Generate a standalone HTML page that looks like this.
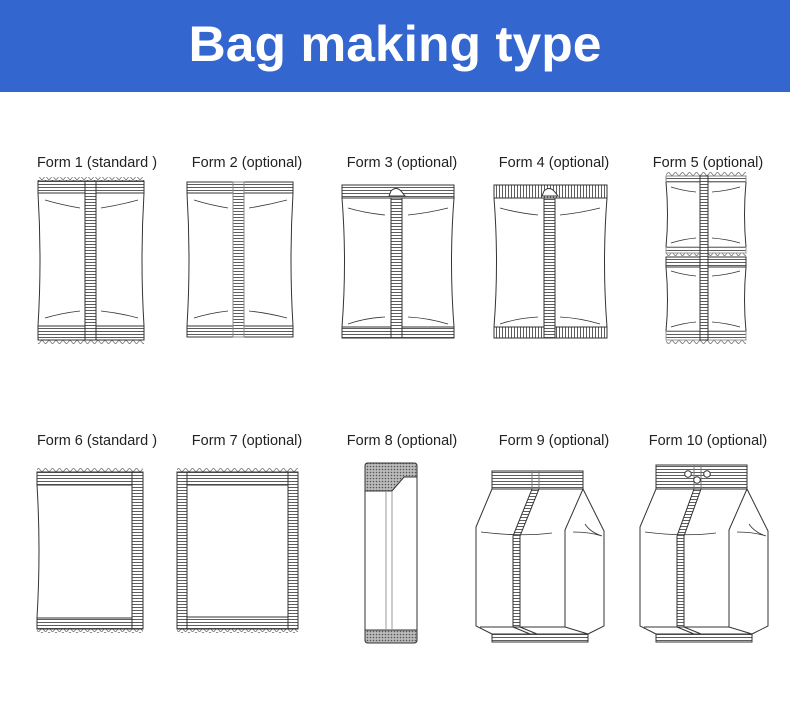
<!DOCTYPE html>
<html><head><meta charset="utf-8"><style>
html,body{margin:0;padding:0;background:#fff;}
svg{display:block;}
</style></head><body>
<svg width="790" height="717" viewBox="0 0 790 717" xmlns="http://www.w3.org/2000/svg">
<defs>
<pattern id="hh" width="6" height="3" patternUnits="userSpaceOnUse"><rect width="6" height="3" fill="#fff"/><line x1="0" y1="1.5" x2="6" y2="1.5" stroke="#333" stroke-width="0.8"/></pattern>
<pattern id="vv" width="3" height="6" patternUnits="userSpaceOnUse"><rect width="3" height="6" fill="#fff"/><line x1="1.5" y1="0" x2="1.5" y2="6" stroke="#333" stroke-width="0.8"/></pattern>
<pattern id="xx" width="3" height="3" patternUnits="userSpaceOnUse"><rect width="3" height="3" fill="#bbb"/><circle cx="1.5" cy="1.5" r="0.8" fill="#555"/></pattern>
<pattern id="zt" x="0" y="0" width="7" height="4" patternUnits="userSpaceOnUse"><polyline points="0,4 3.5,0 7,4" fill="none" stroke="#777" stroke-width="0.8"/></pattern>
<pattern id="zb" x="0" y="0" width="7" height="4" patternUnits="userSpaceOnUse"><polyline points="0,0 3.5,4 7,0" fill="none" stroke="#777" stroke-width="0.8"/></pattern>
</defs>
<rect x="0" y="0" width="790" height="92" fill="#3366cf"/>
<text x="395" y="61" text-anchor="middle" font-family="Liberation Sans, sans-serif" font-weight="bold" font-size="50" fill="#fff" textLength="413" lengthAdjust="spacingAndGlyphs">Bag making type</text>

<g font-family="Liberation Sans, sans-serif" font-size="14.5" fill="#222" text-anchor="middle">
<text x="97" y="167">Form 1 (standard )</text>
<text x="247" y="167">Form 2 (optional)</text>
<text x="402" y="167">Form 3 (optional)</text>
<text x="554" y="167">Form 4 (optional)</text>
<text x="708" y="167">Form 5 (optional)</text>
<text x="97" y="445">Form 6 (standard )</text>
<text x="247" y="445">Form 7 (optional)</text>
<text x="402" y="445">Form 8 (optional)</text>
<text x="554" y="445">Form 9 (optional)</text>
<text x="708" y="445">Form 10 (optional)</text>
</g>

<g fill="none" stroke="#333" stroke-width="1">
<!-- Bag 1 -->
<rect x="38" y="177" width="106" height="4" fill="url(#zt)" stroke="none"/>
<rect x="38" y="340" width="106" height="4" fill="url(#zb)" stroke="none"/>
<rect x="38" y="181" width="106" height="12" fill="url(#hh)"/>
<rect x="38" y="326" width="106" height="14" fill="url(#hh)"/>
<path d="M38,193 Q42,260 38,326 M144,193 Q140,260 144,326"/>
<rect x="85" y="181" width="11" height="159" fill="url(#hh)"/>
<path d="M45,200 Q62,205 80,208 M101,208 Q120,205 138,200 M45,318 Q62,313 80,311 M101,311 Q120,313 138,318" stroke-width="0.8"/>
<!-- Bag 2 -->
<rect x="187" y="182" width="106" height="11" fill="url(#hh)"/>
<rect x="187" y="326" width="106" height="11" fill="url(#hh)"/>
<path d="M187,193 Q191,260 187,326 M293,193 Q289,260 293,326"/>
<rect x="233" y="182" width="11" height="155" fill="url(#hh)" stroke="#888"/>
<path d="M194,200 Q210,205 228,208 M249,208 Q268,205 287,200 M194,318 Q210,313 228,311 M249,311 Q268,313 287,318" stroke-width="0.8"/>
<!-- Bag 3 -->
<rect x="342" y="185" width="112" height="13" fill="url(#hh)"/>
<rect x="342" y="327" width="112" height="11" fill="url(#hh)"/>
<path d="M342,198 Q347,262 342,327 M454,198 Q449,262 454,327"/>
<rect x="391" y="198" width="11" height="140" fill="url(#hh)"/>
<path d="M389,196 L391,191 Q396,186 401,191 L405,196 Z" fill="#fff"/>
<path d="M348,208 Q365,213 385,215 M408,215 Q428,213 448,208 M348,324 Q365,318 385,317 M408,317 Q428,318 448,324" stroke-width="0.8"/>
<!-- Bag 4 -->
<rect x="494" y="185" width="113" height="13" fill="url(#vv)"/>
<rect x="494" y="327" width="113" height="11" fill="url(#vv)"/>
<path d="M494,198 Q499,262 494,327 M607,198 Q602,262 607,327"/>
<rect x="544" y="198" width="11" height="140" fill="url(#hh)"/>
<path d="M542,196 L544,191 Q549,186 554,191 L558,196 Z" fill="#fff"/>
<path d="M500,208 Q518,213 538,215 M560,215 Q580,213 600,208 M500,324 Q518,318 538,317 M560,317 Q580,318 600,324" stroke-width="0.8"/>
<!-- Bag 5 -->
<rect x="666" y="172" width="80" height="4" fill="url(#zt)" stroke="none"/>
<rect x="666" y="340" width="80" height="4" fill="url(#zb)" stroke="none"/>
<rect x="666" y="253" width="80" height="3" fill="url(#zb)" stroke="none"/>
<rect x="666" y="176" width="80" height="6" fill="url(#hh)" stroke="#888"/>
<rect x="666" y="247" width="80" height="6" fill="url(#hh)" stroke="#999"/>
<rect x="666" y="257" width="80" height="10" fill="url(#hh)"/>
<rect x="666" y="331" width="80" height="9" fill="url(#hh)" stroke="#999"/>
<path d="M666,182 Q669,215 666,247 M746,182 Q743,215 746,247 M666,267 Q669,300 666,331 M746,267 Q743,300 746,331"/>
<rect x="700" y="176" width="8" height="164" fill="url(#hh)"/>
<path d="M671,187 Q684,191 696,192 M712,192 Q726,191 740,187 M671,243 Q684,239 696,238 M712,238 Q726,239 740,243 M671,271 Q684,275 696,276 M712,276 Q726,275 740,271 M671,327 Q684,323 696,322 M712,322 Q726,323 740,327" stroke-width="0.8"/>

<!-- Bag 6 -->
<rect x="37" y="468" width="106" height="4" fill="url(#zt)" stroke="none"/>
<rect x="37" y="629" width="106" height="4" fill="url(#zb)" stroke="none"/>
<rect x="37" y="472" width="106" height="13" fill="url(#hh)"/>
<rect x="37" y="618" width="106" height="11" fill="url(#hh)"/>
<path d="M37,485 Q41,550 37,618"/>
<rect x="132" y="472" width="11" height="157" fill="url(#hh)"/>
<!-- Bag 7 -->
<rect x="177" y="468" width="121" height="4" fill="url(#zt)" stroke="none"/>
<rect x="177" y="629" width="121" height="4" fill="url(#zb)" stroke="none"/>
<rect x="177" y="472" width="121" height="13" fill="url(#hh)"/>
<rect x="177" y="617" width="121" height="12" fill="url(#hh)"/>
<rect x="177" y="472" width="10" height="157" fill="url(#hh)"/>
<rect x="288" y="472" width="10" height="157" fill="url(#hh)"/>
<!-- Bag 8 -->
<rect x="365" y="463" width="52" height="180" rx="3" fill="#fff"/>
<path d="M368,463 H414 Q417,463 417,466 V477 H404 L392,491 H365 V466 Q365,463 368,463 Z" fill="url(#xx)"/>
<path d="M365,630 H417 V640 Q417,643 414,643 H368 Q365,643 365,640 Z" fill="url(#xx)"/>
<path d="M386,491 V630 M392,491 V630" stroke="#999"/>

<!-- Bag 9 -->
<g id="b9">
<rect x="492" y="471" width="91" height="18" fill="url(#hh)"/>
<rect x="492" y="634" width="96" height="8" fill="url(#hh)"/>
<path d="M492,489 L476,527 L476,626 L492,634 M583,489 L604,531 L604,626 L588,634 M583,489 L565,530 L565,627 L588,634 M480,627 L565,627"/>
<path d="M532,471 V489 M539,471 V489" stroke="#777"/>
<path d="M532,489 L513,536 L513,627 L520,627 L520,536 L539,489 Z" fill="url(#hh)"/>
<path d="M513,627 L530,634 M520,627 L537,634"/>
<path d="M481,532 Q520,537 552,533 M573,532 Q590,532 602,536 M585,524 Q590,532 602,536" stroke-width="0.8"/>
</g>
<!-- Bag 10 -->
<g transform="translate(656,0) scale(1.0,1) translate(-492,0)">
<rect x="492" y="465" width="91" height="24" fill="url(#hh)"/>
<rect x="492" y="634" width="96" height="8" fill="url(#hh)"/>
<path d="M492,489 L476,527 L476,626 L492,634 M583,489 L604,531 L604,626 L588,634 M583,489 L565,530 L565,627 L588,634 M480,627 L565,627"/>
<path d="M530,465 V489 M537,465 V489" stroke="#777"/>
<path d="M530,489 L513,536 L513,627 L520,627 L520,536 L537,489 Z" fill="url(#hh)"/>
<path d="M513,627 L530,634 M520,627 L537,634"/>
<path d="M481,532 Q520,537 552,533 M573,532 Q590,532 602,536 M585,524 Q590,532 602,536" stroke-width="0.8"/>
<circle cx="524" cy="474" r="3.3" fill="#fff"/>
<circle cx="543" cy="474" r="3.3" fill="#fff"/>
<circle cx="533" cy="480" r="3.3" fill="#fff"/>
</g>
</g>
</svg>
</body></html>
